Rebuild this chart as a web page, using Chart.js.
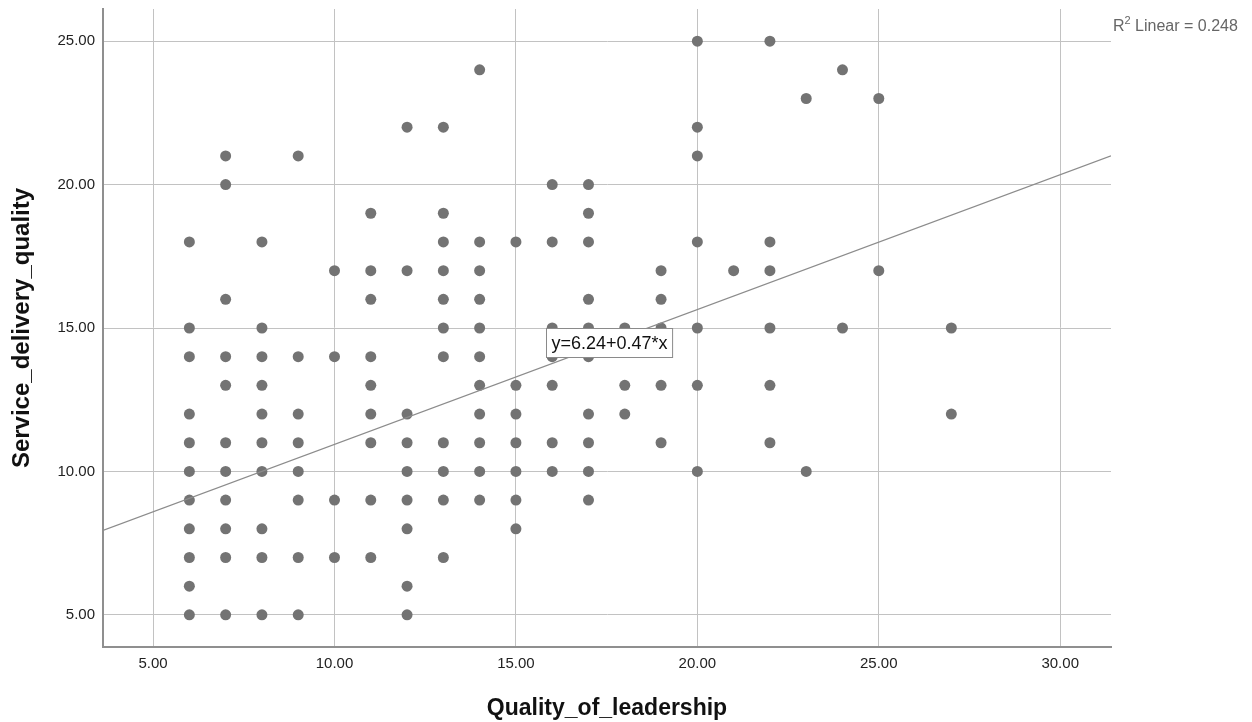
<!DOCTYPE html>
<html>
<head>
<meta charset="utf-8">
<title>Quality_of_leadership vs Service_delivery_quality</title>
<script src="https://cdn.jsdelivr.net/npm/chart.js@4.4.1/dist/chart.umd.min.js"></script>
<style>
  html, body { margin: 0; padding: 0; background: #fff; }
  canvas { display: block; }
</style>
</head>
<body>
<canvas id="scatterChart" width="1252" height="722"></canvas>
<script>
// --- data ---
const leadershipScores = [6, 7, 8, 9, 10, 11, 12, 13, 14, 15, 16, 17, 18, 19, 20, 21, 22, 23, 24, 25, 27];

// service delivery values observed at each leadership score (same order as above)
const deliveryAtScore = [
  [18, 15, 14, 12, 11, 10, 9, 8, 7, 6, 5],
  [21, 20, 16, 14, 13, 11, 10, 9, 8, 7, 5],
  [18, 15, 14, 13, 12, 11, 10, 8, 7, 5],
  [21, 14, 12, 11, 10, 9, 7, 5],
  [17, 14, 9, 7],
  [19, 17, 16, 14, 13, 12, 11, 9, 7],
  [22, 17, 12, 11, 10, 9, 8, 6, 5],
  [22, 19, 18, 17, 16, 15, 14, 11, 10, 9, 7],
  [24, 18, 17, 16, 15, 14, 13, 12, 11, 10, 9],
  [18, 13, 12, 11, 10, 9, 8],
  [20, 18, 15, 14, 13, 11, 10],
  [20, 19, 18, 16, 15, 14, 12, 11, 10, 9],
  [15, 13, 12],
  [17, 16, 15, 13, 11],
  [25, 22, 21, 18, 15, 13, 10],
  [17],
  [25, 18, 17, 15, 13, 11],
  [23, 10],
  [24, 15],
  [23, 17],
  [15, 12]
];

const xTicks = [5, 10, 15, 20, 25, 30];
const yTicks = [5, 10, 15, 20, 25];

// linear fit reported by SPSS
const fitIntercept = 6.24;
const fitSlope = 0.47;
const rSquared = 0.248;

// axis ranges
const xRange = [3.62, 31.40];
const yRange = [3.88, 26.12];

const FONT = "'Liberation Sans', Arial, Helvetica, sans-serif";

// --- build points ---
const points = [];
leadershipScores.forEach((x, i) => {
  deliveryAtScore[i].forEach(y => points.push({ x: x, y: y }));
});

const fitLine = [
  { x: xRange[0], y: fitIntercept + fitSlope * xRange[0] },
  { x: xRange[1], y: fitIntercept + fitSlope * xRange[1] }
];

// --- extra labels: fit equation box and R² note ---
const fitLabels = {
  id: "fitLabels",
  afterDatasetsDraw(chart) {
    const ctx = chart.ctx;
    const xs = chart.scales.x;
    const ys = chart.scales.y;
    const area = chart.chartArea;

    // equation box, anchored in data space
    const eq = "y=" + fitIntercept.toFixed(2) + "+" + fitSlope.toFixed(2) + "*x";
    const cx = xs.getPixelForValue(17.56);
    const cy = ys.getPixelForValue(14.49);
    ctx.save();
    ctx.font = "18px " + FONT;
    const w = ctx.measureText(eq).width + 10;
    const h = 29;
    const bx = Math.round(cx - w / 2) + 0.5;
    const by = Math.round(cy - h / 2) + 0.5;
    ctx.fillStyle = "#ffffff";
    ctx.fillRect(bx, by, w, h);
    ctx.strokeStyle = "#8a8a8a";
    ctx.lineWidth = 1;
    ctx.strokeRect(bx, by, w, h);
    ctx.fillStyle = "#111";
    ctx.textBaseline = "middle";
    ctx.textAlign = "center";
    ctx.fillText(eq, bx + w / 2, by + h / 2 + 1);

    // R² Linear note at the top right
    let tx = area.right + 2;
    const base = area.top + 22;
    ctx.textAlign = "left";
    ctx.textBaseline = "alphabetic";
    ctx.fillStyle = "#666";
    ctx.font = "16px " + FONT;
    ctx.fillText("R", tx, base);
    tx += ctx.measureText("R").width;
    ctx.font = "11px " + FONT;
    ctx.fillText("2", tx, base - 7);
    tx += ctx.measureText("2").width;
    ctx.font = "16px " + FONT;
    ctx.fillText(" Linear = " + rSquared.toFixed(3), tx, base);
    ctx.restore();
  }
};

const ctx = document.getElementById("scatterChart").getContext("2d");
new Chart(ctx, {
  type: "scatter",
  data: {
    datasets: [
      {
        label: "Service_delivery_quality",
        data: points,
        pointRadius: 5.5,
        pointHoverRadius: 5.5,
        pointBackgroundColor: "#737373",
        pointBorderWidth: 0,
        order: 2
      },
      {
        label: "Linear fit",
        data: fitLine,
        showLine: true,
        borderColor: "#8c8c8c",
        borderWidth: 1.2,
        pointRadius: 0,
        fill: false,
        order: 1
      }
    ]
  },
  options: {
    responsive: false,
    animation: false,
    events: [],
    layout: { padding: { top: 9, right: 141, left: 0, bottom: 0 } },
    plugins: {
      legend: { display: false },
      tooltip: { enabled: false }
    },
    scales: {
      x: {
        type: "linear",
        min: xRange[0],
        max: xRange[1],
        afterFit: (scale) => {
          scale.height = 75;
          scale.paddingLeft = 0;
          scale.paddingRight = 0;
        },
        afterBuildTicks: (scale) => { scale.ticks = xTicks.map(v => ({ value: v })); },
        grid: { color: "#c2c2c2", lineWidth: 1, drawTicks: false },
        border: { color: "#8f8f8f", width: 2 },
        ticks: {
          includeBounds: false,
          padding: 8,
          color: "#222",
          font: { family: FONT, size: 15 },
          callback: (v) => Number(v).toFixed(2)
        },
        title: {
          display: true,
          text: "Quality_of_leadership",
          color: "#111",
          font: { family: FONT, size: 23, weight: "bold" },
          padding: { top: 3, bottom: 0 }
        }
      },
      y: {
        type: "linear",
        min: yRange[0],
        max: yRange[1],
        afterFit: (scale) => {
          scale.width = 103;
          scale.paddingTop = 0;
          scale.paddingBottom = 0;
        },
        afterBuildTicks: (scale) => { scale.ticks = yTicks.map(v => ({ value: v })); },
        grid: { color: "#c2c2c2", lineWidth: 1, drawTicks: false },
        border: { color: "#8f8f8f", width: 2 },
        ticks: {
          includeBounds: false,
          padding: 8,
          color: "#222",
          font: { family: FONT, size: 15 },
          callback: (v) => Number(v).toFixed(2)
        },
        title: {
          display: true,
          text: "Service_delivery_quality",
          color: "#111",
          font: { family: FONT, size: 24, weight: "bold" },
          padding: { top: 8, bottom: 0 }
        }
      }
    }
  },
  plugins: [fitLabels]
});
</script>
</body>
</html>
